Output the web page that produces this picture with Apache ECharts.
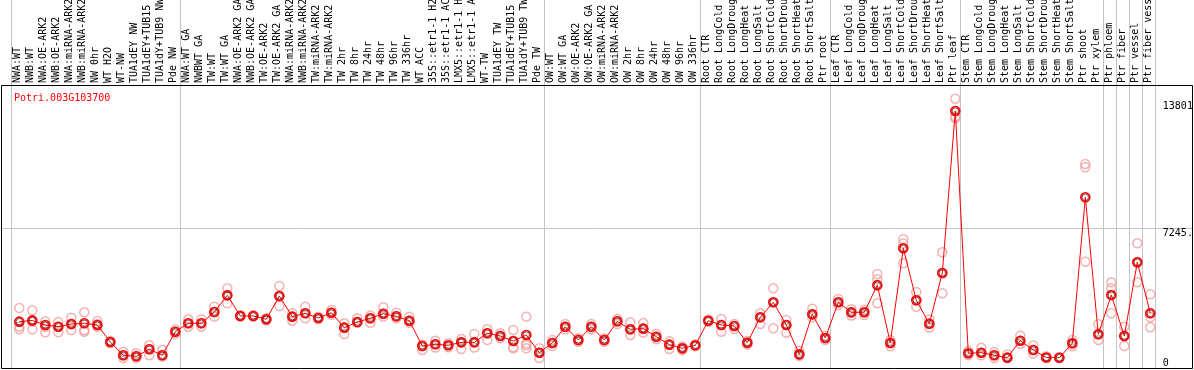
<!DOCTYPE html>
<html>
<head>
<meta charset="utf-8">
<script src="https://cdn.jsdelivr.net/npm/echarts@6/dist/echarts.min.js"></script>
<style>
html,body{margin:0;padding:0;background:#fff;}
#chart{width:1194px;height:370px;}
</style>
</head>
<body>
<div id="chart"></div>
<script>
// ---------- DATA ----------
const geneName = 'Potri.003G103700';

const categories = [
  'NWA:WT','NWB:WT','NWA:OE-ARK2','NWB:OE-ARK2','NWA:miRNA-ARK2','NWB:miRNA-ARK2','NW 0hr','WT H2O','WT-NW','TUA1dEY NW','TUA1dEY+TUB15','TUA1dY+TUB9 NW','Pde NW',
  'NWA:WT GA','NWBWT GA','TW:WT','TW:WT GA','NWA:OE-ARK2 GA','NWB:OE-ARK2 GA','TW:OE-ARK2','TW:OE-ARK2 GA','NWA:miRNA-ARK2 GA','NWB:miRNA-ARK2 GA','TW:miRNA-ARK2','TW:miRNA-ARK2 GA',
  'TW 2hr','TW 8hr','TW 24hr','TW 48hr','TW 96hr','TW 336hr','WT ACC','35S::etr1-1 H2O','35S::etr1-1 ACC','LMX5::etr1-1 H2O','LMX5::etr1-1 ACC','WT-TW','TUA1dEY TW','TUA1dEY+TUB15','TUA1dY+TUB9 TW','Pde TW',
  'OW:WT','OW:WT GA','OW:OE-ARK2','OW:OE-ARK2 GA','OW:miRNA-ARK2','OW:miRNA-ARK2 GA','OW 2hr','OW 8hr','OW 24hr','OW 48hr','OW 96hr','OW 336hr',
  'Root CTR','Root LongCold','Root LongDrought','Root LongHeat','Root LongSalt','Root ShortCold','Root ShortDrought','Root ShortHeat','Root ShortSalt','Ptr root',
  'Leaf CTR','Leaf LongCold','Leaf LongDrought','Leaf LongHeat','Leaf LongSalt','Leaf ShortCold','Leaf ShortDrought','Leaf ShortHeat','Leaf ShortSalt','Ptr leaf',
  'Stem CTR','Stem LongCold','Stem LongDrought','Stem LongHeat','Stem LongSalt','Stem ShortCold','Stem ShortDrought','Stem ShortHeat','Stem ShortSalt','Ptr shoot','Ptr xylem',
  'Ptr phloem','Ptr fiber','Ptr vessel','Ptr fiber vessel'
];

// group separators: a line is drawn at the left edge of these categories (and at the right end)
const groupStarts = [0, 13, 41, 53, 63, 73, 84, 85, 86, 87];

// mean expression per category
const meanValues = [
  2030,2100,1845,1750,1900,1940,1845,895,150,95,490,150,1470,
  1940,1940,2570,3500,2350,2350,2165,3465,2310,2500,2235,2530,
  1695,2010,2220,2475,2330,2085,670,765,710,875,875,1380,1230,950,1285,295,
  840,1745,1005,1745,1005,2050,1605,1640,1190,745,540,710,
  2085,1845,1790,855,2275,3115,1845,205,2440,1120,
  3115,2550,2560,4070,840,6130,3225,1915,4750,13801,
  265,295,150,20,965,445,30,10,820,8980,1325,
  3520,1230,5350,2500
];

// individual replicates
const repA = [
  2795,2665,2050,2010,2250,2555,2070,950,350,265,710,445,1600,
  2160,2160,2870,3895,2400,2400,2220,4025,2500,2865,2310,2680,
  1940,2220,2370,2835,2530,2310,760,965,820,1060,1340,1605,1380,1565,2310,545,
  1000,1900,1100,1900,1100,2200,1995,1950,1340,930,640,760,
  2150,2180,1900,950,2500,3895,2130,400,2755,1250,
  3300,2720,2700,4695,1000,6635,3690,2150,5905,14490,
  400,575,330,200,1245,700,100,60,1000,10845,1885,
  4230,1750,6410,3560
];
const repB = [
  1750,2030,1750,1750,1900,1565,1900,895,150,95,490,150,1470,
  1940,1940,2570,3500,2350,2350,2165,3465,2310,2500,2235,2530,
  1695,2010,2220,2475,2330,2085,670,765,710,875,875,1380,1230,950,820,295,
  840,1745,1005,1745,1005,2050,1605,1640,1190,745,540,710,
  2085,1845,1790,855,2275,3115,1845,205,2440,1120,
  3115,2550,2560,4400,840,6400,3225,1915,4750,13490,
  265,295,150,20,965,445,30,10,820,10660,1325,
  3900,1230,5350,2275
];
const repC = [
  1600,1600,1435,1435,1565,1470,1750,820,0,0,150,80,1340,
  1750,1750,2310,3055,2310,2310,2100,2905,2085,2220,2160,2420,
  1340,1970,1970,2310,2220,1970,450,580,600,500,580,1005,1100,600,710,0,
  680,1600,900,1600,900,1900,1285,1420,1050,500,440,650,
  2020,1470,1620,760,1900,1660,1415,110,2275,1000,
  2950,2370,2400,3055,650,5290,2865,1700,3615,13400,
  150,150,0,0,800,250,0,0,650,5380,1005,
  2500,670,4230,1715
];
const repD = [
  null,null,null,null,null,null,null,null,null,null,null,null,null,
  null,null,null,null,null,null,null,null,null,null,null,null,
  null,null,null,null,null,null,null,null,null,null,null,null,null,540,540,null,
  null,null,null,null,null,null,null,null,null,null,null,null,
  null,null,null,null,null,null,null,null,null,null,
  null,null,null,null,null,null,null,null,null,null,
  null,null,null,null,null,null,null,null,null,null,null,
  null,null,null,null
];

const yMax = 14490;            // axis top (max replicate)
const yTickValues = [0, 7245, 13801];
const yTickLabels = ['0', '7245.', '13801'];
const gridLineValue = 7245;

// ---------- BUILD ----------
const repPoints = [];
[repA, repB, repC, repD].forEach(arr => {
  arr.forEach((v, i) => { if (v !== null && v !== undefined) repPoints.push([i, v]); });
});

const FONT = 'DejaVu Sans Mono';
const labelFor = v => {
  const k = yTickValues.indexOf(v);
  return k >= 0 ? yTickLabels[k] : '';
};
const G = {outerBoundsMode: 'none', containLabel: false};

const chart = echarts.init(document.getElementById('chart'), null, {renderer: 'canvas'});
chart.setOption({
  animation: false,
  backgroundColor: '#fff',
  title: {
    text: geneName, left: 9, top: 88,
    textStyle: {color: '#ff0000', fontSize: 10, fontWeight: 'normal', fontFamily: FONT}
  },
  graphic: [{
    type: 'rect', z: 100, silent: true,
    shape: {x: 1.5, y: 85.5, width: 1191, height: 283},
    style: {fill: 'none', stroke: '#000', lineWidth: 1}
  }],
  grid: [
    Object.assign({left: 12.8, right: 37.2, top: 98.7, bottom: 12}, G),   // data
    Object.assign({left: 11.3, right: 38.7, top: 0, bottom: 2}, G),       // group separators
    Object.assign({left: 11.3, right: 38.7, top: 85, bottom: 12}, G),     // category labels
    Object.assign({left: 1, right: 2, top: 98.7, bottom: 12}, G)          // horizontal reference line
  ],
  xAxis: [
    {gridIndex: 0, type: 'category', data: categories, boundaryGap: true, show: false},
    {gridIndex: 1, type: 'category', data: categories, boundaryGap: true,
     axisLine: {show: false}, axisTick: {show: false}, axisLabel: {show: false},
     splitLine: {show: true, interval: (idx) => groupStarts.indexOf(idx) >= 0,
                 lineStyle: {color: '#c4c4c4', width: 1}}},
    {gridIndex: 2, type: 'category', data: categories, boundaryGap: true, position: 'top',
     axisLine: {show: false}, axisTick: {show: false}, splitLine: {show: false},
     axisLabel: {interval: 0, rotate: 90, margin: 2, color: '#000', fontSize: 10, fontFamily: FONT, hideOverlap: false}},
    {gridIndex: 3, type: 'value', show: false, min: 0, max: 1}
  ],
  yAxis: [
    {gridIndex: 0, type: 'value', min: 0, max: yMax, position: 'right',
     axisLine: {show: false}, axisTick: {show: false}, splitLine: {show: false},
     axisLabel: {customValues: [yTickValues[0], yTickValues[1]], formatter: labelFor,
                 verticalAlign: 'top', align: 'left', margin: 6, color: '#000', fontSize: 10, fontFamily: FONT}},
    {gridIndex: 0, type: 'value', min: 0, max: yMax, position: 'right',
     axisLine: {show: false}, axisTick: {show: false}, splitLine: {show: false},
     axisLabel: {customValues: [yTickValues[2]], formatter: labelFor,
                 verticalAlign: 'bottom', align: 'left', margin: 6, color: '#000', fontSize: 10, fontFamily: FONT}},
    {gridIndex: 1, type: 'value', show: false},
    {gridIndex: 2, type: 'value', show: false},
    {gridIndex: 3, type: 'value', min: 0, max: yMax, interval: gridLineValue,
     axisLine: {show: false}, axisTick: {show: false}, axisLabel: {show: false},
     splitLine: {show: true, lineStyle: {color: ['rgba(0,0,0,0)', '#c4c4c4', 'rgba(0,0,0,0)'], width: 1}}}
  ],
  series: [
    {
      type: 'scatter', xAxisIndex: 0, yAxisIndex: 0, data: repPoints,
      symbol: 'circle', symbolSize: 9, z: 2,
      itemStyle: {color: 'rgba(0,0,0,0)', borderColor: '#f0a0a0', borderWidth: 1.5}
    },
    {
      type: 'line', xAxisIndex: 0, yAxisIndex: 0, data: meanValues,
      symbol: 'circle', symbolSize: 9, showAllSymbol: true, z: 3,
      lineStyle: {color: '#ff0000', width: 1},
      itemStyle: {color: 'rgba(0,0,0,0)', borderColor: '#ff0000', borderWidth: 1.6}
    },
    {
      type: 'scatter', xAxisIndex: 0, yAxisIndex: 0, data: meanValues,
      symbol: 'circle', symbolSize: 6.5, z: 4, silent: true,
      itemStyle: {color: 'rgba(0,0,0,0)', borderColor: '#5a0000', borderWidth: 0.9}
    }
  ]
});
</script>
</body>
</html>
